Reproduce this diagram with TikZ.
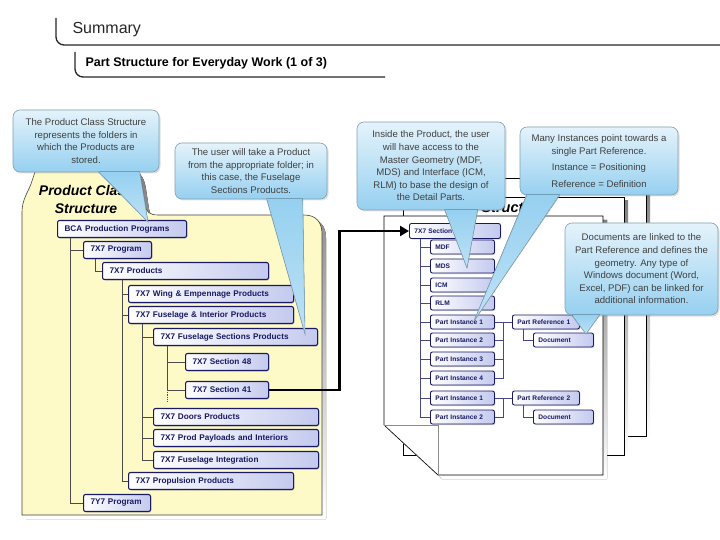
\documentclass[tikz,border=0pt]{standalone}
\usepackage{fontspec}
\setsansfont{Liberation Sans}
\usepackage{tikz}
\usetikzlibrary{arrows.meta,positioning,calc,shadows}

\definecolor{navy}{RGB}{25,25,100}
\definecolor{lav}{RGB}{196,202,238}
\definecolor{folderyellow}{RGB}{253,250,200}
\definecolor{notetop}{RGB}{228,243,251}
\definecolor{notebot}{RGB}{150,208,240}
\definecolor{noteline}{RGB}{130,160,180}
\definecolor{shade}{RGB}{112,112,112}

\tikzset{
  pbox/.style={draw=navy, line width=1.1pt, rounded corners=2pt, left color=white, right color=lav,
    text=navy, font=\sffamily\bfseries\fontsize{8.2}{9}\selectfont, minimum height=17pt,
    anchor=west, inner xsep=7pt, inner ysep=0pt, text width=#1, align=left,
    drop shadow={opacity=0.3, shadow xshift=1pt, shadow yshift=-1pt}},
  sbox/.style={pbox=#1, line width=0.9pt, minimum height=14pt, inner xsep=5pt,
    font=\sffamily\bfseries\fontsize{6.6}{7}\selectfont},
  tline/.style={draw=black!70, line width=0.8pt},
  sline/.style={draw=navy!80, line width=0.6pt},
  note/.style={draw=noteline, line width=0.6pt, rounded corners=7pt, top color=notetop,
    bottom color=notebot, text=black!75, font=\sffamily\fontsize{9.6}{12.6}\selectfont,
    align=center, inner sep=0pt, drop shadow={opacity=0.25, shadow xshift=1.5pt, shadow yshift=-1.5pt}},
  notetail/.style={top color=notebot, bottom color=notetop!50!notebot},
  page/.style={draw=black, line width=0.6pt, fill=white},
}

\begin{document}
\begin{tikzpicture}[x=1pt, y=-1pt, font=\sffamily]
  \useasboundingbox (0,0) rectangle (720,540);

  % Header
  \draw[line width=1.3pt, black!85, rounded corners=8pt] (56,18) -- (56,45) -- (720,45);
  \node[anchor=west, font=\sffamily\fontsize{16}{18}\selectfont, text=black!85] (summary) at (69,30) {Summary};
  \draw[line width=1.3pt, black!85, rounded corners=8pt] (75,52) -- (75,77) -- (385,77);
  \node[anchor=west, font=\sffamily\bfseries\fontsize{12.5}{14}\selectfont] (subtitle) at (82,63) {Part Structure for Everyday Work (1 of 3)};

  % Folder: shadow, then body
  \begin{scope}[shift={(4,4)}]
    \fill[shade] (22,515) -- (22,212) .. controls (22,200) and (28,192) .. (31,184) -- (35,172)
      .. controls (36,168) and (38,166) .. (42,166) -- (125,166) .. controls (135,166) and (140,172) .. (142,185)
      -- (145,205) .. controls (146,212) and (150,215) .. (158,215) -- (304,215)
      .. controls (316,215) and (322,222) .. (322,234) -- (322,515) -- cycle;
  \end{scope}
  \draw[fill=folderyellow, draw=black!75, line width=0.6pt] (22,515) -- (22,212) .. controls (22,200) and (28,192) .. (31,184) -- (35,172)
    .. controls (36,168) and (38,166) .. (42,166) -- (125,166) .. controls (135,166) and (140,172) .. (142,185)
    -- (145,205) .. controls (146,212) and (150,215) .. (158,215) -- (304,215)
    .. controls (316,215) and (322,222) .. (322,234) -- (322,515) -- cycle;
  \node[font=\sffamily\bfseries\itshape\fontsize{14}{18}\selectfont, align=center] (classtitle) at (86,199) {Product Class\\Structure};

  % Product Class Structure tree
  \node[pbox=115pt] (bca) at (57,229) {BCA Production Programs};
  \node[pbox=54pt] (prog7x7) at (83,250) {7X7 Program};
  \node[pbox=152pt] (prod7x7) at (102,271) {7X7 Products};
  \node[pbox=151pt] (wing) at (128,294) {7X7 Wing \& Empennage Products};
  \node[pbox=151pt] (fusint) at (128,315) {7X7 Fuselage \& Interior Products};
  \node[pbox=150pt] (fussec) at (153,337) {7X7 Fuselage Sections Products};
  \node[pbox=69pt] (sec48) at (185,362) {7X7 Section 48};
  \node[pbox=69pt] (sec41) at (185,390) {7X7 Section 41};
  \node[pbox=151pt] (doors) at (153,417) {7X7 Doors Products};
  \node[pbox=151pt] (payload) at (153,438) {7X7 Prod Payloads and Interiors};
  \node[pbox=151pt] (fusintg) at (153,460) {7X7 Fuselage Integration};
  \node[pbox=151pt] (propul) at (128,481) {7X7 Propulsion Products};
  \node[pbox=53pt] (prog7y7) at (83,503) {7Y7 Program};

  \draw[tline] ([xshift=13pt]bca.south west) |- (prog7x7.west);
  \draw[tline] ([xshift=13pt]bca.south west) |- (prog7y7.west);
  \draw[tline] ([xshift=12pt]prog7x7.south west) |- (prod7x7.west);
  \foreach \n in {wing,fusint,propul}
    \draw[tline] ([xshift=20pt]prod7x7.south west) |- (\n.west);
  \foreach \n in {fussec,doors,payload,fusintg}
    \draw[tline] ([xshift=14pt]fusint.south west) |- (\n.west);
  \foreach \n in {sec48,sec41}
    \draw[tline] ([xshift=14pt]fussec.south west) |- (\n.west);
  \draw[tline, densely dotted] (sec41.west) ++(-18,0) -- ++(0,12);

  % Stack of pages
  \fill[shade] (426,182) rectangle (650,440);
  \draw[page] (422,178) rectangle (646,436);
  \fill[shade] (407,201) rectangle (628,459);
  \draw[page] (403,197) rectangle (624,455);
  \fill[shade] (388,220) -- (607,220) -- (607,479) -- (442,479) -- (388,429) -- cycle;
  \draw[page] (384,216) -- (603,216) -- (603,475) -- (438,475) -- (384,425) -- cycle;
  \draw[black!45, line width=0.6pt] (384,425) -- (438,425) -- (438,475);
  \node[anchor=west, font=\sffamily\bfseries\itshape\fontsize{14.5}{16}\selectfont] (parttitle) at (478,208) {Structure};

  % Part structure tree
  \node[sbox=81pt, minimum height=15pt] (sec41r) at (409,231) {7X7 Section 41};
  \node[sbox=54pt] (mdf) at (430,247) {MDF};
  \node[sbox=54pt] (mds) at (430,266) {MDS};
  \node[sbox=54pt] (icm) at (430,285) {ICM};
  \node[sbox=54pt] (rlm) at (430,303) {RLM};
  \node[sbox=54pt] (pi1) at (430,322) {Part Instance 1};
  \node[sbox=54pt] (pi2) at (430,340) {Part Instance 2};
  \node[sbox=54pt] (pi3) at (430,359) {Part Instance 3};
  \node[sbox=54pt] (pi4) at (430,378) {Part Instance 4};
  \node[sbox=54pt] (pi5) at (430,398) {Part Instance 1};
  \node[sbox=54pt] (pi6) at (430,417) {Part Instance 2};
  \node[sbox=57pt] (pr1) at (512,322) {Part Reference 1};
  \node[sbox=50pt] (doc1) at (533,340) {Document};
  \node[sbox=57pt] (pr2) at (512,398) {Part Reference 2};
  \node[sbox=50pt] (doc2) at (533,417) {Document};

  \foreach \n in {mdf,mds,icm,rlm,pi1,pi2,pi3,pi4,pi5,pi6}
    \draw[sline] ([xshift=11pt]sec41r.south west) |- (\n.west);
  \draw[sline] (pi1) -- (pr1);
  \coordinate (join1) at ($(pi1.east)!0.5!(pr1.west)$);
  \foreach \n in {pi2,pi3,pi4}
    \draw[sline] (\n.east) -| (join1);
  \draw[sline] ([xshift=11pt]pr1.south west) |- (doc1.west);
  \draw[sline] (pi5) -- (pr2);
  \coordinate (join2) at ($(pi5.east)!0.5!(pr2.west)$);
  \draw[sline] (pi6.east) -| (join2);
  \draw[sline] ([xshift=11pt]pr2.south west) |- (doc2.west);

  % Section 41 goes to its part structure
  \draw[line width=2.8pt, -{Triangle[length=9pt,width=10pt]}] (sec41.east) -- ++(70,0) |- (sec41r.west);

  % Callouts
  \node[note, minimum width=146pt, minimum height=62pt] (note1) at (86,141)
    {The Product Class Structure\\represents the folders in\\which the Products are\\stored.};
  \coordinate (tip1) at (148,222);
  \fill[notetail] ([xshift=86pt,yshift=1pt]note1.south west) -- (tip1) -- ([xshift=127pt,yshift=1pt]note1.south west) -- cycle;
  \draw[noteline, line width=0.6pt] ([xshift=86pt]note1.south west) -- (tip1) -- ([xshift=127pt]note1.south west);

  \node[note, minimum width=152pt, minimum height=56pt] (note2) at (251,171)
    {The user will take a Product\\from the appropriate folder; in\\this case, the Fuselage\\Sections Products.};
  \coordinate (tip2) at (305,334);
  \fill[notetail] ([xshift=92pt,yshift=1pt]note2.south west) -- (tip2) -- ([xshift=128pt,yshift=1pt]note2.south west) -- cycle;
  \draw[noteline, line width=0.6pt] ([xshift=92pt]note2.south west) -- (tip2) -- ([xshift=128pt]note2.south west);

  \node[note, minimum width=148pt, minimum height=88pt] (note3) at (431,166)
    {Inside the Product, the user\\will have access to the\\Master Geometry (MDF,\\MDS) and Interface (ICM,\\RLM) to base the design of\\the Detail Parts.};
  \coordinate (tip3) at (467,268);
  \fill[notetail] ([xshift=88pt,yshift=1pt]note3.south west) -- (tip3) -- ([xshift=121pt,yshift=1pt]note3.south west) -- cycle;
  \draw[noteline, line width=0.6pt] ([xshift=88pt]note3.south west) -- (tip3) -- ([xshift=121pt]note3.south west);

  \node[note, minimum width=158pt, minimum height=68pt] (note4) at (599,161)
    {Many Instances point towards a\\single Part Reference.\\[4pt]Instance = Positioning\\[4pt]Reference = Definition};
  \coordinate (tip4) at (474,321);
  \fill[notetail] ([xshift=7pt,yshift=1pt]note4.south west) -- (tip4) -- ([xshift=40pt,yshift=1pt]note4.south west) -- cycle;
  \draw[noteline, line width=0.6pt] ([xshift=7pt]note4.south west) -- (tip4) -- ([xshift=40pt]note4.south west);

  \node[note, minimum width=153pt, minimum height=92pt] (note5) at (641.5,269)
    {Documents are linked to the\\Part Reference and defines the\\geometry. Any type of\\Windows document (Word,\\Excel, PDF) can be linked for\\additional information.};
  \coordinate (tip5) at (586,334);
  \fill[notetail] ([xshift=7pt,yshift=1pt]note5.south west) -- (tip5) -- ([xshift=35pt,yshift=1pt]note5.south west) -- cycle;
  \draw[noteline, line width=0.6pt] ([xshift=7pt]note5.south west) -- (tip5) -- ([xshift=35pt]note5.south west);
\end{tikzpicture}
\end{document}
